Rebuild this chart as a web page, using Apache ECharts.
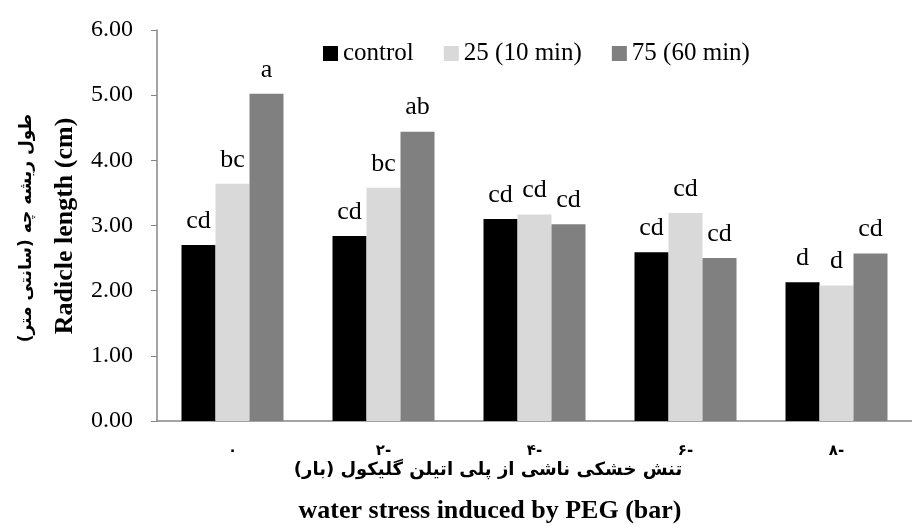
<!DOCTYPE html>
<html>
<head>
<meta charset="utf-8">
<script src="https://cdn.jsdelivr.net/npm/echarts@6/dist/echarts.min.js"></script>
<style>
html,body{margin:0;padding:0;background:#fff;}
#c{width:912px;height:530px;}
</style>
</head>
<body>
<div id="c"></div>
<script>
const categories = ['۰', '۲-', '۴-', '۶-', '۸-'];
const seriesNames = ['control', '25 (10 min)', '75 (60 min)'];
const controlVals = [2.70, 2.84, 3.10, 2.59, 2.13];
const min10Vals = [3.64, 3.58, 3.17, 3.19, 2.08];
const min60Vals = [5.02, 4.44, 3.02, 2.50, 2.57];
const controlLetters = ['cd', 'cd', 'cd', 'cd', 'd'];
const min10Letters = ['bc', 'bc', 'cd', 'cd', 'd'];
const min60Letters = ['a', 'ab', 'cd', 'cd', 'cd'];
const yTitleFa = 'طول ریشه چه (سانتی متر)\u200F';
const yTitleEn = 'Radicle length (cm)';
const xTitleFa = 'تنش خشکی ناشی از پلی اتیلن گلیکول (بار)\u200F';
const xTitleEn = 'water stress induced by PEG (bar)';

const serif = "'Liberation Serif', 'DejaVu Serif', 'DejaVu Sans', serif";
const colors = ['#000000', '#d9d9d9', '#808080'];

function mk(name, vals, letters, color) {
  return {
    name: name,
    type: 'bar',
    data: vals,
    barWidth: 34,
    barGap: '0%',
    itemStyle: { color: color },
    label: {
      show: true,
      position: 'top',
      distance: 11,
      fontFamily: serif,
      fontSize: 26,
      color: '#000',
      formatter: p => letters[p.dataIndex]
    }
  };
}

const chart = echarts.init(document.getElementById('c'));
chart.setOption({
  animation: false,
  backgroundColor: '#fff',
  color: colors,
  grid: { left: 157, top: 30, right: -11, bottom: 109, containLabel: false },
  legend: {
    left: 318,
    top: 36,
    itemWidth: 15,
    itemHeight: 15,
    itemGap: 30,
    icon: 'rect',
    textStyle: { fontFamily: serif, fontSize: 25, color: '#000' },
    data: seriesNames
  },
  xAxis: {
    type: 'category',
    data: categories,
    axisLine: { lineStyle: { color: '#868686', width: 1.5 } },
    axisTick: { alignWithLabel: true, length: 6, lineStyle: { color: '#868686' } },
    axisLabel: {
      fontFamily: "'DejaVu Sans', sans-serif",
      fontSize: 15,
      fontWeight: 'bold',
      color: '#000',
      margin: 23
    }
  },
  yAxis: {
    type: 'value',
    min: 0,
    max: 6,
    interval: 1,
    splitLine: { show: false },
    axisLine: { show: true, lineStyle: { color: '#868686', width: 1.5 } },
    axisTick: { show: true, inside: false, length: 6, lineStyle: { color: '#868686' } },
    axisLabel: {
      fontFamily: serif,
      fontSize: 24,
      color: '#000',
      margin: 24,
      formatter: v => v.toFixed(2)
    }
  },
  graphic: [
    { type: 'text', x: 27, y: 228, rotation: Math.PI / 2,
      style: { text: yTitleFa, fontFamily: "'DejaVu Sans', sans-serif", fontWeight: 'bold', fontSize: 17, fill: '#000', align: 'center', verticalAlign: 'middle' } },
    { type: 'text', x: 65, y: 226, rotation: Math.PI / 2,
      style: { text: yTitleEn, fontFamily: serif, fontWeight: 'bold', fontSize: 26, fill: '#000', align: 'center', verticalAlign: 'middle' } },
    { type: 'text', x: 488, y: 470,
      style: { text: xTitleFa, fontFamily: "'DejaVu Sans', sans-serif", fontWeight: 'bold', fontSize: 18, fill: '#000', align: 'center', verticalAlign: 'middle' } },
    { type: 'text', x: 490, y: 511,
      style: { text: xTitleEn, fontFamily: serif, fontWeight: 'bold', fontSize: 26, fill: '#000', align: 'center', verticalAlign: 'middle' } }
  ],
  series: [
    mk(seriesNames[0], controlVals, controlLetters, colors[0]),
    mk(seriesNames[1], min10Vals, min10Letters, colors[1]),
    mk(seriesNames[2], min60Vals, min60Letters, colors[2])
  ]
});
</script>
</body>
</html>
